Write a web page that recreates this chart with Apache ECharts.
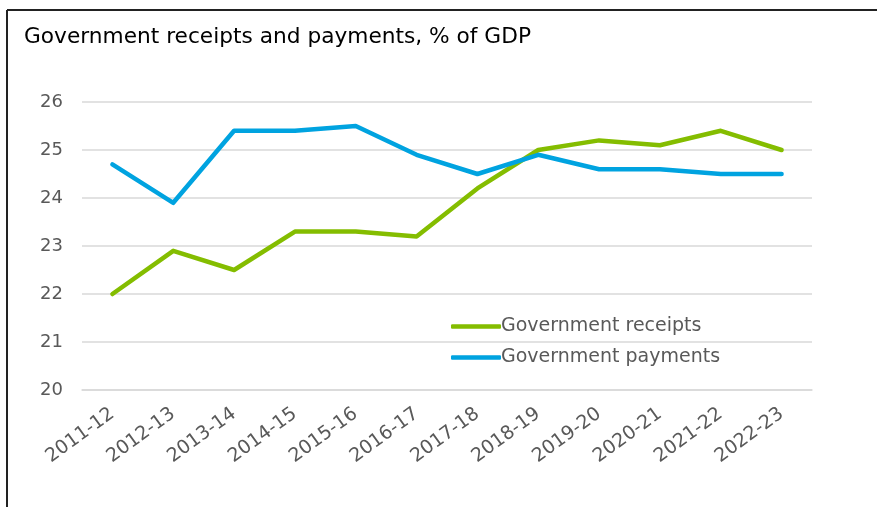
<!DOCTYPE html>
<html><head><meta charset="utf-8">
<script src="https://cdn.jsdelivr.net/npm/echarts@6/dist/echarts.min.js"></script>
<style>html,body{margin:0;padding:0;background:#fff}#c{width:877px;height:507px}</style>
</head><body><div id="c"></div>
<script>
const categories = ["2011-12","2012-13","2013-14","2014-15","2015-16","2016-17","2017-18","2018-19","2019-20","2020-21","2021-22","2022-23"];
const receipts = [22.0,22.9,22.5,23.3,23.3,23.2,24.2,25.0,25.2,25.1,25.4,25.0];
const payments = [24.7,23.9,25.4,25.4,25.5,24.9,24.5,24.9,24.6,24.6,24.5,24.5];
const titleText = "Government receipts and payments, % of GDP";

const chart = echarts.init(document.getElementById('c'), null, {renderer:'canvas'});
const font = 'DejaVu Sans, Verdana, sans-serif';
chart.setOption({
  animation:false,
  backgroundColor:'#fff',
  title:{text:titleText,left:19,top:21,textStyle:{fontFamily:font,fontSize:21.7,fontWeight:'normal',color:'#000'}},
  grid:{left:82,right:65,top:102,bottom:117,containLabel:false},
  legend:{
    orient:'vertical',left:446,top:312,itemGap:12,itemWidth:50,itemHeight:4.5,
    icon:'roundRect',
    textStyle:{fontFamily:font,fontSize:19,color:'#595959',padding:[0,0,0,-5]},
    data:['Government receipts','Government payments']
  },
  xAxis:{type:'category',data:categories,boundaryGap:true,
    axisLine:{show:true,lineStyle:{color:'#d9d9d9',width:1.5}},
    axisTick:{show:false},
    axisLabel:{rotate:36,margin:22,interval:0,fontFamily:font,fontSize:19,color:'#595959'}},
  yAxis:{type:'value',min:20,max:26,interval:1,
    axisLine:{show:false},axisTick:{show:false},
    axisLabel:{margin:19,fontFamily:font,fontSize:18,color:'#595959'},
    splitLine:{lineStyle:{color:'#d9d9d9',width:1.5}}},
  series:[
    {name:'Government receipts',type:'line',data:receipts,symbol:'none',color:'#84BD00',lineStyle:{width:4.5,cap:'round',join:'round'}},
    {name:'Government payments',type:'line',data:payments,symbol:'none',color:'#00A3E0',lineStyle:{width:4.5,cap:'round',join:'round'}}
  ],
  graphic:[
    {type:'line',shape:{x1:7,y1:10,x2:877,y2:10},style:{stroke:'#222',lineWidth:2}},
    {type:'line',shape:{x1:7,y1:10,x2:7,y2:507},style:{stroke:'#222',lineWidth:2}}
  ]
});
</script></body></html>
